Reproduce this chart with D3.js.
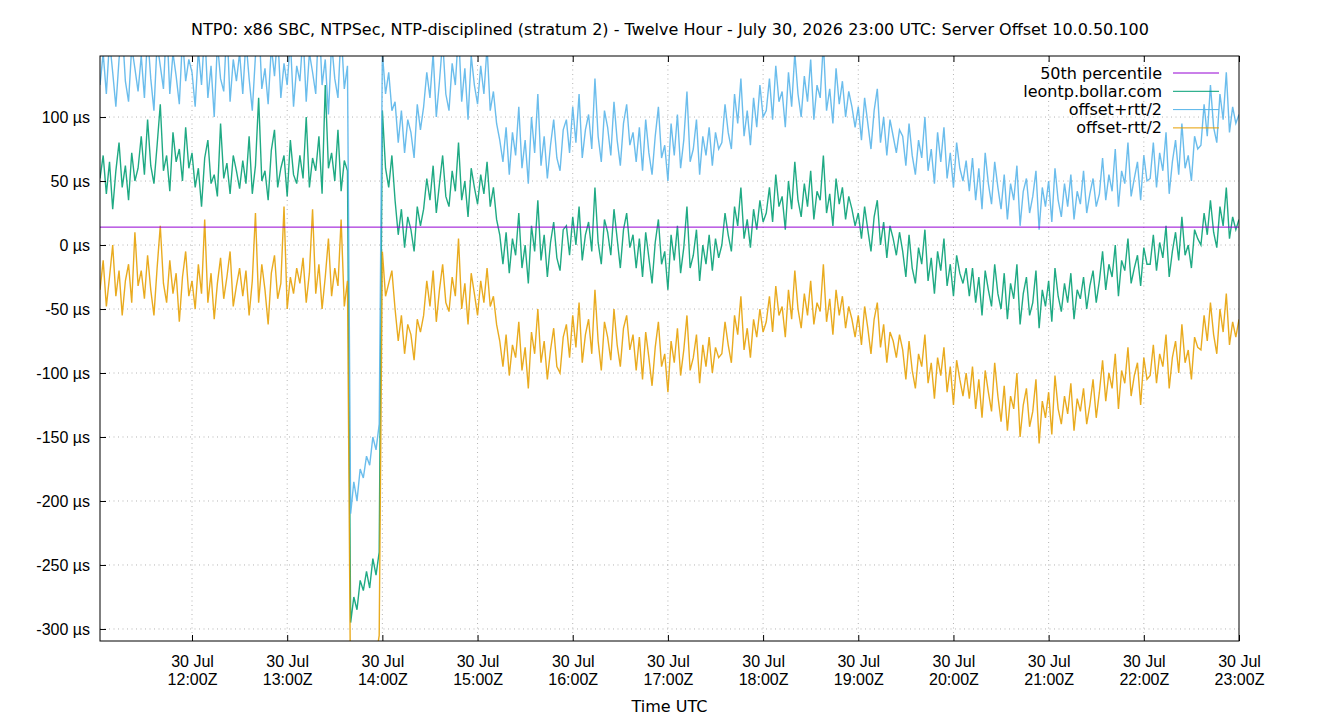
<!DOCTYPE html>
<html lang="en">
<head>
  <meta charset="UTF-8">
  <title>Server Offset 10.0.50.100</title>
  <style>
    body{ margin: 0; background: #fff; }
    svg{ font-family: "DejaVu Sans", sans-serif; }
    .grid line{ stroke: #b4b4b4; stroke-width: 1; stroke-dasharray: 1,3.5; }
  </style>
</head>
<body>
  <script src="https://cdn.jsdelivr.net/npm/d3@7/dist/d3.min.js"></script>
  <script>
    // samples every 2 minutes, first one at 11:02Z, last at 23:00Z
    const startTime = Date.UTC(2026, 6, 30, 11, 2);
    const stepMin = 2;

    const offset = [
      52, 70, 40, 65, 28, 58, 80, 45, 62, 35, 72, 50, 60,
      85, 55, 98, 62, 48, 78, 110, 58, 70, 42, 88, 65, 75, 50, 92, 60,
      72, 45, 60, 30, 68, 82, 48, 55, 38, 95, 52, 64, 40, 70, 58, 44,
      66, 48, 85, 40, 62, 115, 50, 58, 35, 74, 90, 45, 60, 70, 38, 82, 55, 48,
      70, 52, 100, 45, 68, 58, 85, 40, 125, 60, 72, 50, 90, 42, 66, 58,
      -295, -275, -285, -262, -270, -255, -268, -245, -258, -240,
      105, 60, 45, 70,
      35, 8, 28, -2, 22, 12, -5, 30, 15,
      28, 52, 35, 62, 25, 48, 70, 38, 30, 58, 42, 80, 35, 50, 22, 60, 45, 32, 55, 40, 65, 30,
      45, 20, 8,
      -15, 10, -22, 5, -8, 25, -18, 0, -30, 15, -5, 35, -12, 8, -25, 2, 18, -10, -20, 12,
      15, -8, 22, 0, 30, -12, 8, 18, -5, 45, 2, -15, 20, 10, -8, 28, 5, -18, 12, 25, -2, 8,
      -18, 5, -25, 10, -10, -30, 2, 20, -15, -5, -35, 8, -12, 15, -22, -2, 30, -18, -8, 12, -28, 0, -15, 8, -20, 5, -10,
      0, 25, 8, -5, 30, 15, 45, 5, 20, -2, 28, 12, 35, 18,
      25, 45, 18, 55, 30, 38, 12, 50, 28, 65, 35, 22, 48, 30, 58, 20, 42, 35, 70, 25, 40, 15, 52, 32, 45, 20, 38, 28, 15,
      25, 5, 30, 12, -5, 22, 35, 0, 18, -10, 15, 5, -8, 10,
      -5, -25, 8, -18, -30, -2, -15, 12, -28, -10, -38, -5, -20, 5, -32, -15, -40, -8, -22, -30, -18,
      -40, -18, -45, -25, -55, -20, -35, -48, -15, -38,
      -50, -22, -58, -30, -42, -15, -62, -38, -25, -55, -45, -20, -65, -35, -48, -28, -60, -18, -40, -52, -30, -45, -22, -58, -35, -42, -25, -50, -32, -20, -45,
      -28, -5, -35, -15, -25, 0, -40, -12, -20, 5, -30, -18, -8, -32, -2, -15,
      -15, 8, -20, 2, -10, 15, -25, -5, 10, -12, 22, -8, 0, -18, 12, 5,
      0, 25, 8, 35, 10, -2, 30, 15, 45, 5, 22, 12, 20
    ];

    const offsetPlus = [
      125, 150, 118, 160, 135, 108, 145, 170, 128, 112, 155, 138, 120,
      148, 115, 165, 130, 105, 158, 140, 122, 175, 118, 150, 132, 110, 162, 128, 145,
      135, 108, 152, 125, 168, 115, 140, 100, 158, 130, 120, 172, 112, 145, 128, 150,
      118, 160, 130, 105, 148, 178, 122, 138, 110, 155, 132, 165, 115, 142, 125, 160, 108, 140,
      128, 165, 112, 150, 135, 118, 180, 125, 145, 102, 158, 130, 115, 168, 122, 140,
      -210, -185, -200, -175, -182, -165, -172, -150, -160, -140,
      150, 118, 135, 105,
      112, 80, 105, 72, 98, 88, 68, 110, 90,
      108, 135, 115, 150, 100, 128, 160, 118, 105, 142, 125, 168, 112, 138, 98, 148, 125, 110, 140, 118, 155, 105,
      120, 95, 82,
      65, 92, 55, 88, 70, 108, 60, 82, 48, 100, 72, 118, 62, 85, 52, 78, 98, 68, 58, 90,
      98, 72, 108, 80, 118, 68, 90, 102, 75, 130, 85, 65, 105, 92, 70, 112, 82, 62, 95, 110, 78, 88,
      65, 92, 58, 98, 72, 55, 85, 108, 68, 78, 50, 95, 70, 102, 60, 82, 120, 65, 75, 98, 55, 85, 70, 92, 62, 88, 75,
      80, 110, 88, 75, 118, 95, 130, 85, 105, 78, 115, 92, 125, 100,
      105, 130, 98, 140, 112, 120, 92, 135, 108, 150, 118, 100, 132, 112, 145, 98, 125, 115, 158, 105, 122, 95, 138, 110, 128, 100, 120, 108, 92,
      108, 82, 115, 95, 75, 105, 122, 80, 100, 70, 98, 85, 72, 90,
      85, 62, 95, 70, 55, 82, 68, 100, 58, 75, 48, 88, 65, 92, 52, 72, 45, 80, 60, 50, 66,
      42, 68, 35, 60, 28, 72, 48, 32, 65, 45,
      28, 55, 20, 48, 35, 62, 15, 42, 52, 25, 38, 58, 12, 45, 30, 50, 18, 60, 35, 22, 48, 30, 55, 20, 42, 32, 58, 25, 40, 52, 30,
      40, 68, 35, 55, 42, 75, 30, 58, 48, 80, 38, 52, 65, 35, 70, 50,
      52, 80, 45, 72, 58, 88, 40, 65, 82, 55, 95, 60, 70, 50, 85, 75,
      78, 110, 85, 125, 92, 80, 118, 98, 135, 88, 108, 95, 102
    ];

    const offsetMinus = [
      -35, -12, -48, -25, 0, -40, -20, -55, -28, -15, -45, 10, -32,
      -20, -42, -8, -35, -55, -18, 15, -30, -45, -12, -38, -22, -60, -25, -5, -40,
      -28, -50, -15, -38, 20, -45, -22, -58, -30, -10, -42, -25, -5, -48, -32, -18,
      -40, -20, -55, -28, 25, -45, -15, -35, -62, -22, -8, -42, -30, 30, -50, -25, -38, -18,
      -30, -10, -45, -22, 28, -38, -15, -50, -25, 5, -40, -18, -32, 20, -48, -28,
      -360, -335, -350, -325, -340, -318, -330, -310, -322, -305,
      -5, -40, -30, -20,
      -50, -75, -55, -85, -62, -70, -90, -58, -68,
      -55, -28, -48, -20, -60, -35, -15, -45, -52, -25, -40, 5, -50, -30, -62, -22, -38, -55, -28, -45, -18, -48,
      -40, -62, -75,
      -95, -70, -102, -78, -88, -60, -98, -80, -112, -68, -85, -50, -92, -75, -105, -82, -65, -95, -100, -72,
      -62, -88, -55, -80, -45, -92, -70, -58, -85, -35, -75, -98, -60, -72, -90, -50, -78, -95, -65, -55, -82, -70,
      -98, -72, -105, -68, -88, -110, -80, -60, -95, -85, -115, -75, -92, -65, -102, -82, -55, -98, -88, -70, -108, -78, -95, -72, -100, -80, -88,
      -85, -60, -78, -92, -55, -70, -40, -82, -65, -88, -58, -72, -50, -68,
      -60, -40, -68, -32, -55, -48, -72, -35, -58, -20, -50, -65, -38, -55, -28, -62, -45, -52, -15, -60, -42, -70, -35, -55, -40, -65, -48, -58, -72,
      -55, -78, -48, -65, -85, -58, -45, -80, -62, -92, -68, -75, -88, -70,
      -82, -105, -75, -98, -112, -85, -95, -70, -108, -92, -120, -88, -102, -80, -115, -95, -125, -90, -105, -118, -100,
      -120, -95, -128, -105, -135, -98, -115, -130, -92, -118,
      -138, -110, -145, -118, -128, -100, -150, -125, -112, -142, -130, -105, -155, -122, -135, -115, -148, -102, -128, -140, -118, -132, -108, -145, -120, -130, -112, -140, -125, -105, -135,
      -115, -90, -122, -100, -112, -85, -128, -98, -108, -80, -118, -102, -92, -125, -88, -105,
      -102, -78, -108, -85, -95, -70, -112, -88, -75, -100, -62, -92, -82, -105, -72, -80,
      -82, -55, -75, -45, -70, -85, -50, -68, -38, -78, -60, -72, -58
    ];

    const percentile50 = 14;
    const yTicks = [-300, -250, -200, -150, -100, -50, 0, 50, 100];
    const xTickHours = [12, 13, 14, 15, 16, 17, 18, 19, 20, 21, 22, 23];
    const legendLabels = ['50th percentile', 'leontp.bollar.com', 'offset+rtt/2', 'offset-rtt/2'];
    const colors = ['#9400d3', '#009e73', '#56b4e9', '#e69f00'];
    const title = 'NTP0: x86 SBC, NTPSec, NTP-disciplined (stratum 2) - Twelve Hour - July 30, 2026 23:00 UTC: Server Offset 10.0.50.100';

    const W = 1340, H = 720;
    const m = { left: 100, right: 101, top: 56, bottom: 79 };
    const iw = W - m.left - m.right, ih = H - m.top - m.bottom;

    const svg = d3.select('body').append('svg').attr('width', W).attr('height', H);

    const x = d3.scaleUtc()
      .domain([new Date(Date.UTC(2026, 6, 30, 11, 2)), new Date(Date.UTC(2026, 6, 30, 23, 0))])
      .range([m.left, m.left + iw]);
    const y = d3.scaleLinear().domain([-309.4, 147.7]).range([m.top + ih, m.top]);

    const tickDates = xTickHours.map(h => new Date(Date.UTC(2026, 6, 30, h, 0)));

    // grid
    const grid = svg.append('g').attr('class', 'grid');
    grid.selectAll('.gx').data(tickDates.slice(0, -1)).join('line')
      .attr('x1', d => x(d)).attr('x2', d => x(d))
      .attr('y1', m.top).attr('y2', m.top + ih);
    grid.selectAll('.gy').data(yTicks).join('line')
      .attr('x1', m.left).attr('x2', m.left + iw)
      .attr('y1', d => y(d)).attr('y2', d => y(d));

    // series
    svg.append('clipPath').attr('id', 'clip')
      .append('rect').attr('x', m.left).attr('y', m.top).attr('width', iw).attr('height', ih);
    const plot = svg.append('g').attr('clip-path', 'url(#clip)');

    const toPoints = arr => arr.map((v, i) => ({ t: new Date(startTime + i * stepMin * 60000), v }));
    const line = d3.line().x(d => x(d.t)).y(d => y(d.v));

    [[offset, colors[1]], [offsetPlus, colors[2]], [offsetMinus, colors[3]]].forEach(([arr, c]) => {
      plot.append('path')
        .datum(toPoints(arr))
        .attr('fill', 'none')
        .attr('stroke', c)
        .attr('stroke-width', 1.4)
        .attr('stroke-opacity', 0.88)
        .attr('d', line);
    });

    plot.append('line')
      .attr('x1', m.left).attr('x2', m.left + iw)
      .attr('y1', y(percentile50)).attr('y2', y(percentile50))
      .attr('stroke', colors[0]).attr('stroke-width', 1);

    // axes (gnuplot style: inward ticks, mirrored on top)
    const yAxis = svg.append('g').attr('transform', `translate(${m.left},0)`)
      .call(d3.axisLeft(y).tickValues(yTicks).tickSize(-6).tickPadding(10).tickFormat(d => d + ' µs'));
    yAxis.select('.domain').remove();
    yAxis.selectAll('line').attr('stroke', '#000');
    yAxis.selectAll('text').attr('font-size', 16).attr('fill', '#000');

    const xAxis = svg.append('g').attr('transform', `translate(0,${m.top + ih})`)
      .call(d3.axisBottom(x).tickValues(tickDates).tickSize(-6).tickFormat(''));
    xAxis.select('.domain').remove();
    xAxis.selectAll('line').attr('stroke', '#000');
    xAxis.selectAll('.tick').each(function(d){
      const t = d3.select(this).append('text').attr('fill', '#000').attr('font-size', 16).attr('text-anchor', 'middle');
      t.append('tspan').attr('x', 0).attr('y', 26).text('30 Jul');
      t.append('tspan').attr('x', 0).attr('y', 44).text(d3.utcFormat('%H:%MZ')(d));
    });

    const xTop = svg.append('g').attr('transform', `translate(0,${m.top})`)
      .call(d3.axisTop(x).tickValues(tickDates).tickSize(-6).tickFormat(''));
    xTop.select('.domain').remove();
    xTop.selectAll('line').attr('stroke', '#000');

    svg.append('rect')
      .attr('x', m.left).attr('y', m.top).attr('width', iw).attr('height', ih)
      .attr('fill', 'none').attr('stroke', '#000').attr('stroke-width', 1);

    // titles
    svg.append('text').attr('x', W / 2).attr('y', 35).attr('text-anchor', 'middle')
      .attr('font-size', 16).text(title);
    svg.append('text').attr('x', m.left + iw / 2).attr('y', 712).attr('text-anchor', 'middle')
      .attr('font-size', 16).text('Time UTC');

    // legend
    const legend = svg.append('g');
    legendLabels.forEach((label, i) => {
      const ly = 73 + i * 18.3;
      legend.append('text').attr('x', 1162).attr('y', ly + 5.5).attr('text-anchor', 'end')
        .attr('font-size', 16).text(label);
      legend.append('line').attr('x1', 1173).attr('x2', 1219).attr('y1', ly).attr('y2', ly)
        .attr('stroke', colors[i]).attr('stroke-width', 1);
    });
  </script>
</body>
</html>
